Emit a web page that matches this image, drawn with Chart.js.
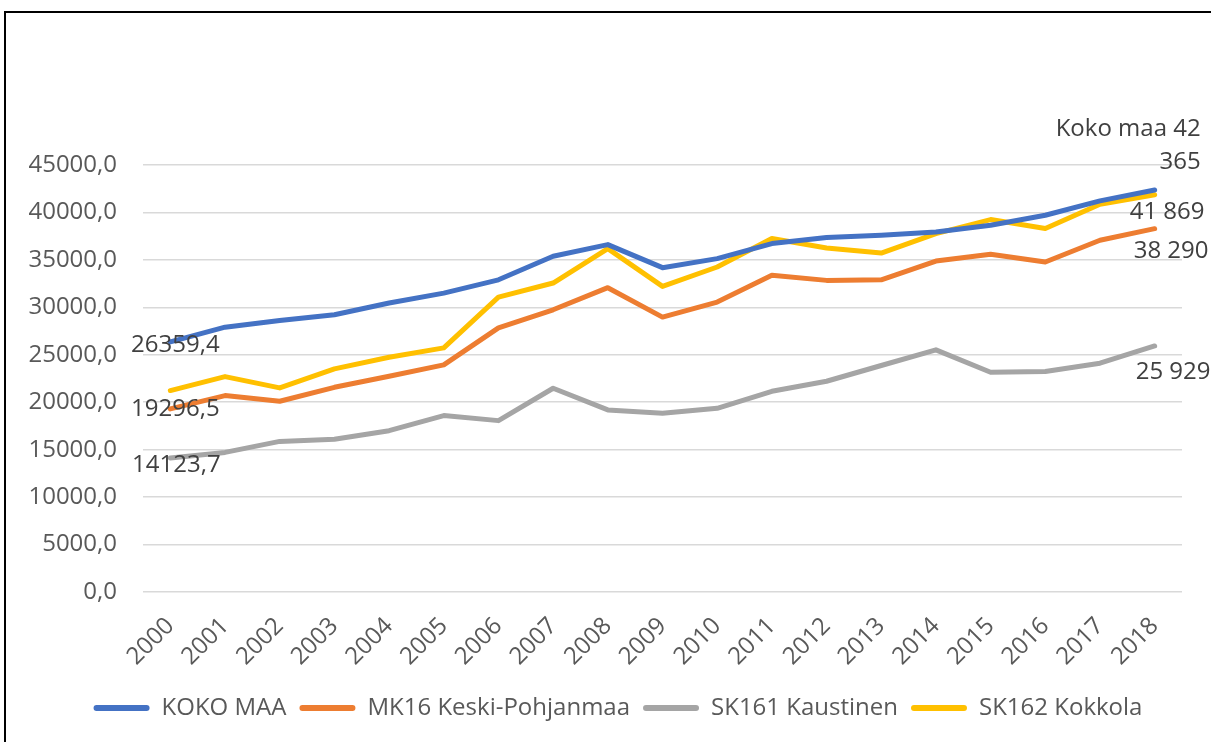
<!DOCTYPE html>
<html>
<head>
<meta charset="utf-8">
<script src="https://cdn.jsdelivr.net/npm/chart.js@4"></script>
<style>
  html, body { margin: 0; padding: 0; background: #fff; overflow: hidden; }
  #frame { position: absolute; left: 4px; top: 11px; width: 1300px; height: 800px; border: 2px solid #000; }
  #wrap { position: absolute; left: 0; top: 0; width: 1211px; height: 742px; }
</style>
</head>
<body>
<div id="frame"></div>
<div id="wrap"><canvas id="graph"></canvas></div>
<script>
// years on the x axis
const years = ['2000','2001','2002','2003','2004','2005','2006','2007','2008','2009',
  '2010','2011','2012','2013','2014','2015','2016','2017','2018'];

const kokoMaa = [26359.4, 27910, 28620, 29220, 30450, 31500, 32900, 35380, 36610, 34180,
  35130, 36720, 37350, 37600, 37950, 38650, 39700, 41220, 42365];
const keskiPohjanmaa = [19296.5, 20700, 20100, 21570, 22740, 23940, 27840, 29740, 32070, 28970,
  30550, 33370, 32840, 32900, 34880, 35590, 34780, 37070, 38290];
const kaustinen = [14123.7, 14710, 15870, 16090, 17000, 18590, 18060, 21470, 19190, 18830,
  19360, 21150, 22210, 23870, 25520, 23160, 23230, 24110, 25929];
const kokkola = [21230, 22700, 21510, 23520, 24740, 25730, 31080, 32560, 36190, 32210,
  34250, 37250, 36250, 35720, 37770, 39250, 38300, 40870, 41869];

const seriesNames = ['KOKO MAA', 'MK16 Keski-Pohjanmaa', 'SK161 Kaustinen', 'SK162 Kokkola'];
const seriesColors = ['#4472C4', '#ED7D31', '#A5A5A5', '#FFC000'];

// data labels (first and last point), per series
const firstLabels = ['26359,4', '19296,5', '14123,7', null];
const lastLabels = [['Koko maa 42', '365'], ['38 290'], ['25 929'], ['41 869']];

const FONT = '"Open Sans", "Liberation Sans", sans-serif';

// draws the first/last value labels next to the points
const pointLabels = {
  id: 'pointLabels',
  afterLayout(chart, args, opts) {
    // legend sits a bit right of centre in the original
    if (chart.legend) {
      chart.legend.left += opts.legendShift;
      chart.legend.right += opts.legendShift;
    }
  },
  afterDatasetsDraw(chart, args, opts) {
    const ctx = chart.ctx;
    ctx.save();
    ctx.font = '24px ' + FONT;
    ctx.fillStyle = '#404040';
    ctx.textBaseline = 'middle';
    chart.data.datasets.forEach((ds, i) => {
      const meta = chart.getDatasetMeta(i);
      const p0 = meta.data[0];
      const pN = meta.data[meta.data.length - 1];
      if (firstLabels[i]) {
        const o = opts.first[i];
        ctx.textAlign = 'center';
        ctx.fillText(firstLabels[i], p0.x + o[0], p0.y + o[1]);
      }
      const o = opts.last[i];
      ctx.textAlign = o[2];
      lastLabels[i].forEach((t, k) => {
        ctx.fillText(t, pN.x + o[0], pN.y + o[1] + k * 33);
      });
    });
    ctx.restore();
  }
};

new Chart(document.getElementById('graph'), {
  type: 'line',
  plugins: [pointLabels],
  data: {
    labels: years,
    datasets: [kokoMaa, keskiPohjanmaa, kaustinen, kokkola].map((d, i) => ({
      label: seriesNames[i],
      data: d,
      borderColor: seriesColors[i],
      backgroundColor: seriesColors[i],
      borderWidth: 5,
      borderCapStyle: 'round',
      borderJoinStyle: 'round',
      pointRadius: 0,
      tension: 0
    }))
  },
  options: {
    responsive: true,
    maintainAspectRatio: false,
    animation: false,
    layout: { padding: { top: 165, right: 29, left: 0, bottom: 12 } },
    scales: {
      x: {
        grid: { display: false, drawTicks: false },
        border: { display: false },
        offset: true,
        ticks: {
          color: '#595959',
          font: { family: FONT, size: 24 },
          minRotation: 45,
          maxRotation: 45,
          padding: 20
        },
        afterFit(scale) { scale.height = 91; }
      },
      y: {
        min: 0,
        max: 45000,
        grid: { color: '#D9D9D9', lineWidth: 1.5, drawTicks: false },
        border: { display: false },
        ticks: {
          stepSize: 5000,
          color: '#595959',
          font: { family: FONT, size: 24 },
          padding: 26,
          callback: v => v.toFixed(1).replace('.', ',')
        },
        afterFit(scale) { scale.width = 143; }
      }
    },
    plugins: {
      tooltip: { enabled: false },
      legend: {
        position: 'bottom',
        labels: {
          color: '#595959',
          font: { family: FONT, size: 24 },
          boxWidth: 56,
          boxHeight: 6,
          useBorderRadius: true,
          borderRadius: 3,
          padding: 13,
          generateLabels(chart) {
            return Chart.defaults.plugins.legend.labels.generateLabels(chart)
              .map(l => Object.assign(l, { lineWidth: 0 }));
          }
        }
      },
      pointLabels: {
        legendShift: 27,
        first: [[5, 3], [5, 0], [6, 7], [0, 0]],
        last: [[46, -61, 'right'], [-21, 22, 'left'], [-19, 26, 'left'], [-25, 17, 'left']]
      }
    }
  }
});
</script>
</body>
</html>
